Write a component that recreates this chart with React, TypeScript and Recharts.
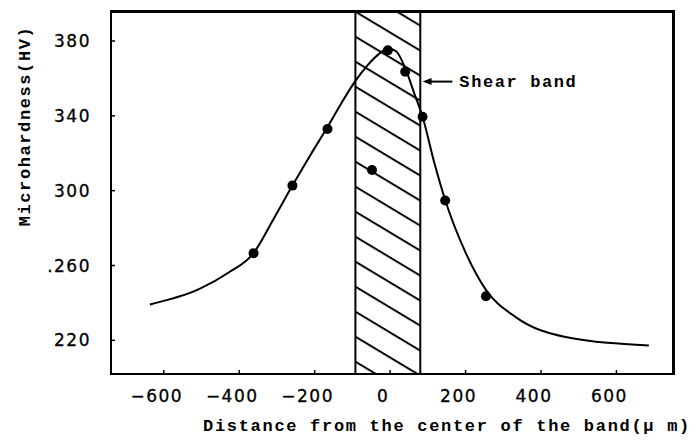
import React from "react";
import {
  ComposedChart,
  Line,
  Scatter,
  XAxis,
  YAxis,
  ReferenceArea,
  ReferenceLine,
  Label,
  Customized,
} from "recharts";

// Fitted curve
const curveX = [-637, -504, -430, -362, -310, -259, -210, -166, -130, -92, -60, -30, -5, 16, 40, 64, 86, 117, 146, 201, 254, 333, 465, 686];
const curveY = [239.2, 247.6, 256, 266.6, 284.5, 302.7, 319.5, 334, 346.5, 358.7, 367, 373, 376, 374.5, 365.5, 352, 339.5, 315, 295, 266.5, 247, 232.4, 221.8, 217.3];

// Measured points
const pointX = [-362, -259, -166, -48, -6, 40, 86, 146, 254];
const pointY = [266.6, 302.7, 333, 311, 375, 363.6, 339.5, 294.7, 243.6];

// Axis ticks
const xTicks = [-600, -400, -200, 0, 200, 400, 600];
const xTickLabels = ["\u2212600", "\u2212400", "\u2212200", "0", "200", "400", "600"];
const yTicks = [220, 260, 300, 340, 380];
const yTickLabels = ["220", ".260", "300", "340", "380"];

// Domains
const xDomain = [-740, 750];
const yDomain = [202, 395.5];

// Shear band extent and annotation
const bandStart = -92;
const bandEnd = 80;
const arrowFrom = 86;
const arrowTo = 165;
const arrowY = 358.3;
const annotation = "Shear band";

const xTitle = "Distance from the center of the band(\u03bc m)";
const yTitle = "Microhardness(HV)";

const curveData = curveX.map((x, i) => ({ x, y: curveY[i] }));
const pointData = pointX.map((x, i) => ({ x, y: pointY[i] }));

const monoFont = "'Liberation Mono', 'DejaVu Sans Mono', monospace";
const tickFont = "'DejaVu Sans', sans-serif";

const ArrowShape = (props: any) => {
  const { x1, y1, x2, y2 } = props;
  if (x1 == null || x2 == null) return null;
  const ax = Math.min(x1, x2);
  const bx = Math.max(x1, x2);
  const y = y1;
  return (
    <g>
      <line x1={ax + 6} y1={y} x2={bx} y2={y2} stroke="#000" strokeWidth={2} />
      <polygon points={`${ax},${y} ${ax + 9},${y - 3.5} ${ax + 9},${y + 3.5}`} fill="#000" />
      <text
        x={bx + 7}
        y={y + 1}
        dominantBaseline="central"
        fontFamily={monoFont}
        fontWeight="bold"
        fontSize={17}
        letterSpacing={1.6}
        fill="#000"
      >
        {annotation}
      </text>
    </g>
  );
};

const Dot = (p: any) => {
  if (p.cx == null || p.cy == null) return null;
  return <circle cx={p.cx} cy={p.cy} r={5} fill="#000" />;
};

// Plot frame drawn from the chart's own offset (top and right edges of the box)
const Frame = (props: any) => {
  const off = props.offset || { left: 111, top: 11, width: 563, height: 363 };
  const left = off.left;
  const top = off.top;
  const w = off.width;
  const h = off.height;
  return (
    <rect x={left} y={top} width={w} height={h} fill="none" stroke="#000" strokeWidth={2} />
  );
};

export default function App() {
  return (
    <div style={{ position: "absolute", left: 0, top: 0, width: 698, height: 440, background: "#fff" }}>
      <svg width={0} height={0} style={{ position: "absolute" }}>
        <defs>
          <pattern
            id="hatch"
            patternUnits="userSpaceOnUse"
            width={20}
            height={25}
            patternTransform="skewY(31)"
          >
            <rect x={0} y={0} width={20} height={25} fill="#fff" />
            <line x1={-1} y1={23.1} x2={21} y2={23.1} stroke="#000" strokeWidth={2.3} />
          </pattern>
        </defs>
      </svg>
      <ComposedChart
        width={698}
        height={440}
        margin={{ top: 11, right: 24, bottom: 26, left: 0 }}
      >
        <XAxis
          dataKey="x"
          type="number"
          domain={xDomain}
          allowDataOverflow
          ticks={xTicks}
          tickFormatter={(v: number) => xTickLabels[xTicks.indexOf(v)] ?? String(v)}
          height={40}
          tickSize={-4}
          tickMargin={20}
          axisLine={{ stroke: "#000", strokeWidth: 2 }}
          tickLine={{ stroke: "#000", strokeWidth: 1.5 }}
          tick={{ fill: "#000", stroke: "#000", strokeWidth: 0.3, fontSize: 17, fontFamily: tickFont, dx: -7, letterSpacing: 1.5 }}
        >
          <Label
            content={(p: any) => {
              const vb = p.viewBox || { x: 111, y: 374 };
              return (
                <text
                  x={vb.x + 92}
                  y={vb.y + 57}
                  fontFamily={monoFont}
                  fontWeight="bold"
                  fontSize={17}
                  letterSpacing={1.7}
                  fill="#000"
                >
                  {xTitle}
                </text>
              );
            }}
          />
        </XAxis>
        <XAxis
          xAxisId="top"
          orientation="top"
          type="number"
          domain={xDomain}
          height={1}
          tick={false}
          tickLine={false}
          axisLine={{ stroke: "#000", strokeWidth: 2 }}
        />
        <YAxis
          dataKey="y"
          type="number"
          domain={yDomain}
          allowDataOverflow
          ticks={yTicks}
          tickFormatter={(v: number) => yTickLabels[yTicks.indexOf(v)] ?? String(v)}
          width={111}
          tickSize={-4}
          tickMargin={24}
          axisLine={{ stroke: "#000", strokeWidth: 2 }}
          tickLine={{ stroke: "#000", strokeWidth: 1.5 }}
          tick={{ fill: "#000", stroke: "#000", strokeWidth: 0.3, fontSize: 17, fontFamily: tickFont, letterSpacing: 1.5 }}
        >
          <Label
            content={(p: any) => {
              const vb = p.viewBox || { x: 0, y: 11 };
              const cx = vb.x + 25;
              const cy = vb.y + 114;
              return (
                <text
                  x={cx}
                  y={cy}
                  transform={`rotate(-90 ${cx} ${cy})`}
                  textAnchor="middle"
                  dominantBaseline="central"
                  fontFamily={monoFont}
                  fontWeight="bold"
                  fontSize={17}
                  letterSpacing={1.6}
                  fill="#000"
                >
                  {yTitle}
                </text>
              );
            }}
          />
        </YAxis>
        <YAxis
          yAxisId="right"
          orientation="right"
          type="number"
          domain={yDomain}
          width={1}
          tick={false}
          tickLine={false}
          axisLine={{ stroke: "#000", strokeWidth: 2 }}
        />
        <ReferenceArea
          x1={bandStart}
          x2={bandEnd}
          y1={yDomain[0]}
          y2={yDomain[1]}
          fill="url(#hatch)"
          fillOpacity={1}
          stroke="#000"
          strokeWidth={2}
          ifOverflow="hidden"
        />
        <Line
          data={curveData}
          dataKey="y"
          type="monotone"
          stroke="#000"
          strokeWidth={2}
          dot={false}
          activeDot={false}
          isAnimationActive={false}
        />
        <Scatter data={pointData} dataKey="y" fill="#000" shape={Dot} isAnimationActive={false} />
        <ReferenceLine
          segment={[
            { x: arrowFrom, y: arrowY },
            { x: arrowTo, y: arrowY },
          ]}
          shape={ArrowShape}
          ifOverflow="visible"
        />
        <Customized component={Frame} />
      </ComposedChart>
    </div>
  );
}
